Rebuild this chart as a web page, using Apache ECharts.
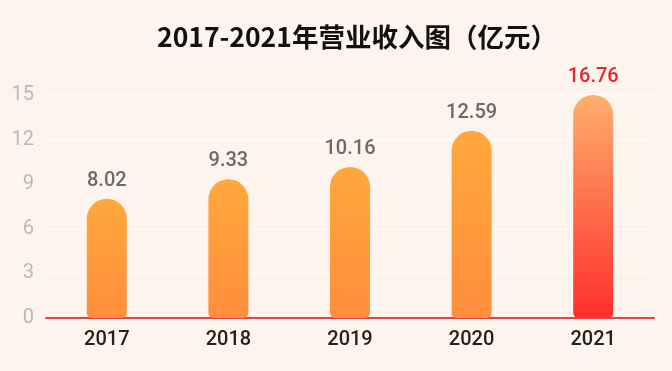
<!DOCTYPE html>
<html>
<head>
<meta charset="utf-8">
<style>
html,body{margin:0;padding:0;background:#fdf4ed;}
#c{width:672px;height:371px;}
</style>
<script src="https://cdn.jsdelivr.net/npm/echarts@6/dist/echarts.min.js"></script>
</head>
<body>
<div id="c"></div>
<script>
var title = '2017-2021年营业收入图（亿元）';
var categories = ['2017', '2018', '2019', '2020', '2021'];
var revenue = [8.02, 9.33, 10.16, 12.59, 16.76];
var yTicks = [0, 3, 6, 9, 12, 15];

var yMax = yTicks[yTicks.length - 1];
var normalGrad = new echarts.graphic.LinearGradient(0, 0, 0, 1, [
  {offset: 0, color: '#ffa83c'}, {offset: 1, color: '#ff8e3c'}
]);
var hiGrad = new echarts.graphic.LinearGradient(0, 0, 0, 1, [
  {offset: 0, color: '#ffae6c'}, {offset: 1, color: '#ff2f2c'}
]);
var barData = revenue.map(function (v, i) {
  var last = i === revenue.length - 1;
  return {
    value: Math.min(v, yMax),
    raw: v,
    itemStyle: {color: last ? hiGrad : normalGrad},
    label: {color: last ? '#e5262a' : '#6a6a6a'}
  };
});

var chart = echarts.init(document.getElementById('c'));
chart.setOption({
  backgroundColor: '#fdf4ed',
  animation: false,
  title: {
    text: title, left: 152, top: 19,
    textStyle: {fontFamily: 'Noto Sans CJK SC', fontWeight: 'bold', fontSize: 26.5, color: '#111'}
  },
  grid: {left: 46, right: 18, top: 95, bottom: 53},
  xAxis: {
    type: 'category', data: categories,
    axisLine: {lineStyle: {color: '#e2444a', width: 2}},
    axisTick: {show: false},
    axisLabel: {fontFamily: 'Roboto', fontWeight: 500, fontSize: 20, color: '#222', margin: 12}
  },
  yAxis: {
    type: 'value', min: 0, max: yMax, interval: 3,
    axisLine: {show: false}, axisTick: {show: false},
    axisLabel: {fontFamily: 'Roboto', fontSize: 20, color: '#bdb7b2', margin: 12},
    splitLine: {lineStyle: {color: '#fffaf6', width: 1.5}}
  },
  series: [{
    type: 'bar', data: barData, barWidth: 40,
    itemStyle: {borderRadius: [20, 20, 5, 5]},
    label: {
      show: true, position: 'top', distance: 8,
      fontFamily: 'Roboto', fontWeight: 500, fontSize: 20,
      formatter: function (p) { return p.data.raw.toFixed(2); }
    }
  }]
});
</script>
</body>
</html>
